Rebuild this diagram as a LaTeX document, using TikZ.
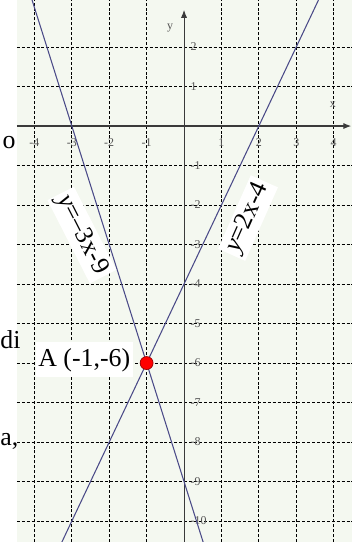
\documentclass[tikz,border=0pt]{standalone}
\usepackage{fontspec}
\setmainfont{Liberation Serif}
\usetikzlibrary{arrows.meta}
\definecolor{paper}{HTML}{F4F8F0}
\definecolor{graph}{HTML}{4A4A88}
\definecolor{tick}{HTML}{555555}
\definecolor{axis}{HTML}{3A3A3A}

\begin{document}
\begin{tikzpicture}[x=0.748cm,y=0.79cm,>=Latex,font=\fontsize{14.7}{16}\selectfont]
  \tikzset{gridline/.style={black,dash pattern=on 1.7pt off 1.1pt,line width=0.45pt},
    graphline/.style={graph,line width=0.6pt},
    axisline/.style={axis,line width=0.6pt,-{Latex[length=4.5pt,width=3.5pt]}},
    ticklabel/.style={text=tick,font=\fontsize{6.8}{7}\selectfont,inner sep=1pt},
    eqlabel/.style={fill=white,inner sep=2pt},
    sidetext/.style={anchor=base west,inner sep=0pt}}
  \useasboundingbox (-4.92,-10.53) rectangle (4.49,3.19);
  \fill[paper] (-4.47,-10.53) rectangle (4.49,3.19);
  % grid
  \foreach \i in {-4,-3,-2,-1,1,2,3,4}
    \draw[gridline] (\i,-10.53) -- (\i,3.19);
  \foreach \j in {-10,...,-1,1,2}
    \draw[gridline] (-4.47,\j) -- (4.49,\j);
  % axes
  \coordinate (xl) at (-4.47,0);
  \coordinate (xr) at (4.47,0);
  \coordinate (yb) at (0,-10.53);
  \coordinate (yt) at (0,2.94);
  \draw[axisline] (xl) -- (xr);
  \draw[axisline] (yb) -- (yt);
  \foreach \i in {-4,-3,-2,-1,1,2,3,4}
    \node[ticklabel] (tx\i) at (\i,-0.43) {\i};
  \foreach \j in {-10,...,-1,1,2}
    \node[ticklabel,anchor=west] (ty\j) at (0.12,\j) {\j};
  \node[ticklabel] (xname) at (3.98,0.53) {x};
  \node[ticklabel] (yname) at (-0.37,2.48) {y};
  % the two lines
  \coordinate (p1) at (-3.265,-10.53);
  \coordinate (p2) at (3.595,3.19);
  \coordinate (q1) at (-4.063,3.19);
  \coordinate (q2) at (0.51,-10.53);
  \draw[graphline] (p1) -- (p2);
  \draw[graphline] (q1) -- (q2);
  \node[eqlabel,rotate=66] (eqa) at (1.71,-2.33) {\textit{y}=2x-4};
  \node[eqlabel,rotate=-63] (eqb) at (-2.73,-2.76) {\textit{y}=–3x-9};
  % intersection
  \node[eqlabel,anchor=east,minimum height=0.7cm,inner sep=1.5pt] (alab) at (-1.36,-5.92) {A (-1,-6)};
  \node[circle,fill=red,draw=red!60!black,inner sep=0pt,minimum size=0.26cm,line width=0.4pt] (A) at (-1,-6) {};
  % text on the left
  \node[anchor=base east,inner sep=0.5pt] (ta) at (-4.47,-0.56) {o};
  \node[sidetext] (tb) at (-4.92,-5.62) {di};
  \node[sidetext] (tc) at (-4.92,-8.08) {a,};
\end{tikzpicture}
\end{document}
